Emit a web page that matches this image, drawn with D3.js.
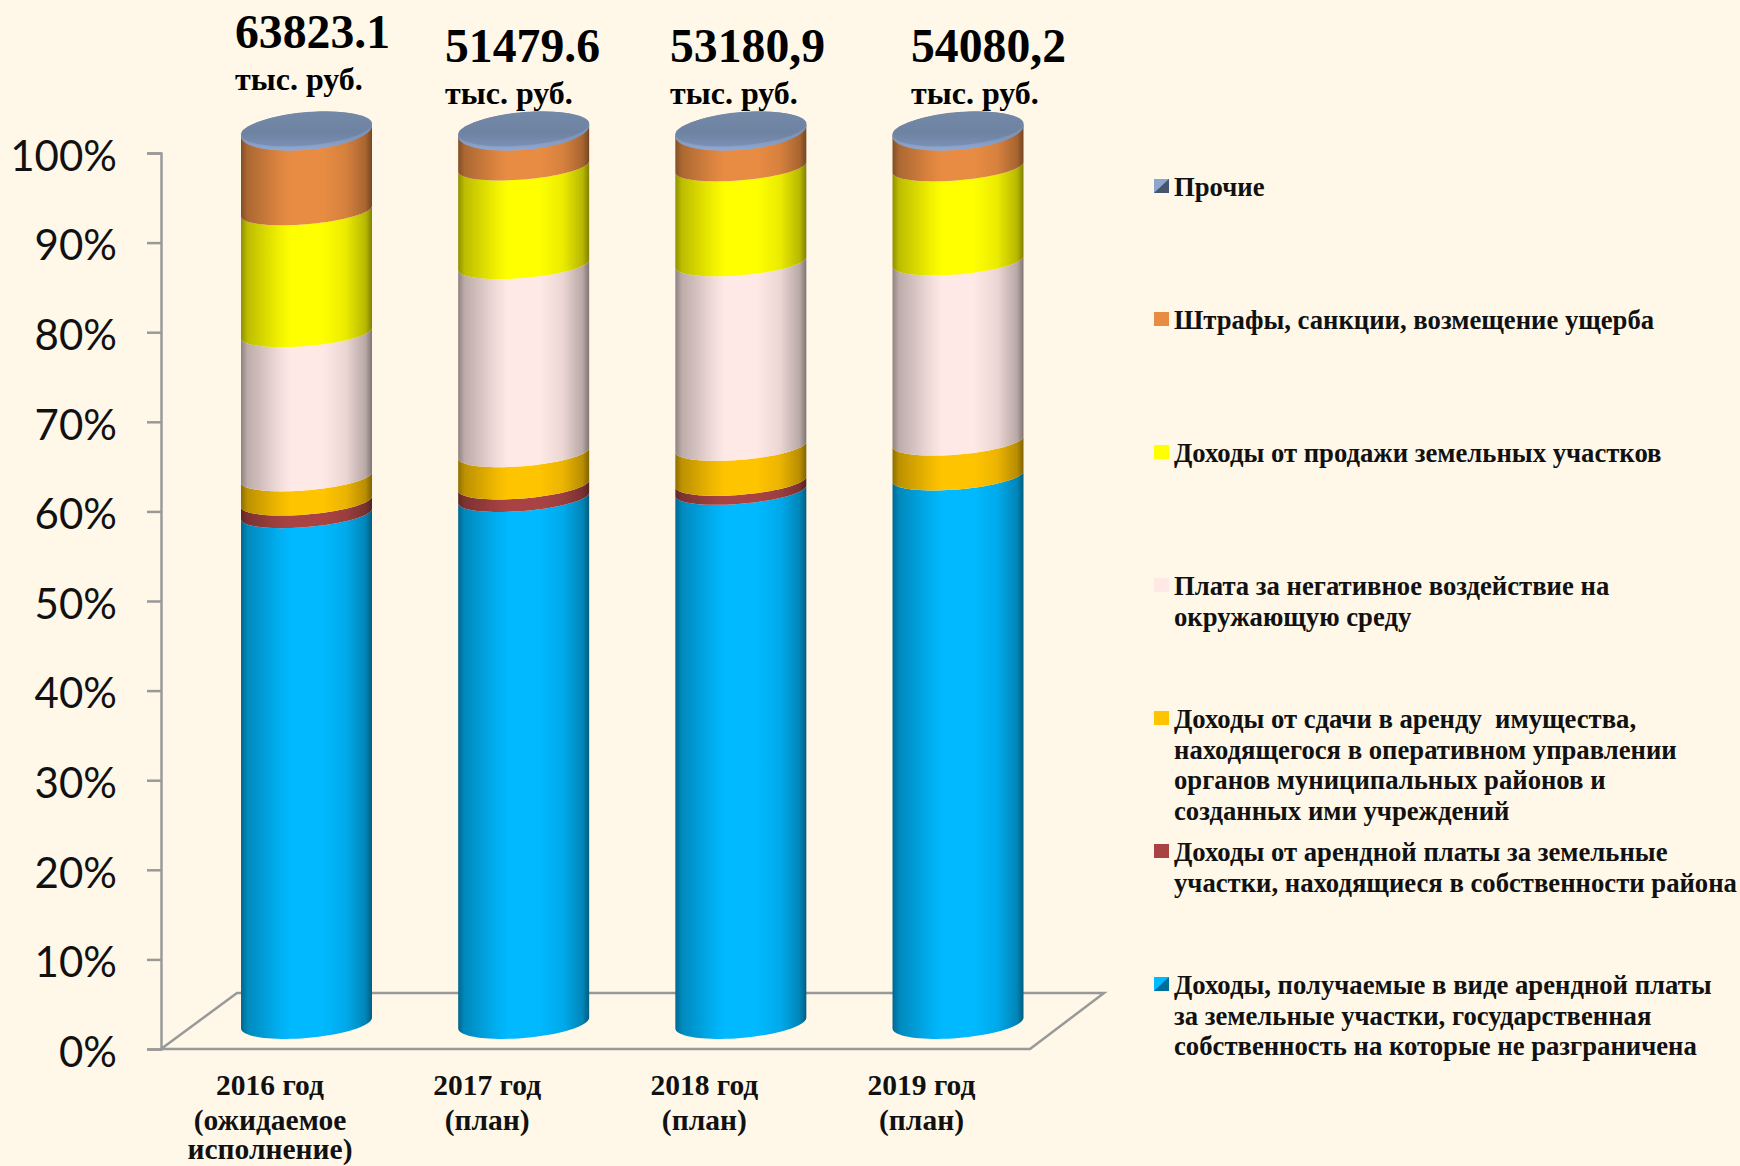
<!DOCTYPE html>
<html><head><meta charset="utf-8">
<script src="https://cdn.jsdelivr.net/npm/d3@7"></script>
<style>html,body{margin:0;padding:0;background:#FFF8E9;overflow:hidden}svg{display:block}</style>
</head><body><svg id="c" width="1740" height="1166"></svg>
<script>
const categories=[["2016 год","(ожидаемое","исполнение)"],["2017 год","(план)"],["2018 год","(план)"],["2019 год","(план)"]];
const totals=["63823.1","51479.6","53180,9","54080,2"];
const unitLabel="тыс. руб.";
const rentLand=[56.8,58.6,59.4,61.0];
const rentOwned=[1.4,1.4,1.0,0];
const rentProperty=[2.7,3.6,3.9,3.9];
const environment=[16.1,21.0,20.6,20.1];
const landSales=[13.6,11.0,10.6,10.5];
const fines=[9.2,4.2,4.3,4.3];
const other=[0.2,0.2,0.2,0.2];
const seriesNames=[
 ["Доходы, получаемые в виде арендной платы","за земельные участки, государственная","собственность на которые не разграничена"],
 ["Доходы от арендной платы за земельные","участки, находящиеся в собственности района"],
 ["Доходы от сдачи в аренду  имущества,","находящегося в оперативном управлении","органов муниципальных районов и","созданных ими учреждений"],
 ["Плата за негативное воздействие на","окружающую среду"],
 ["Доходы от продажи земельных участков"],
 ["Штрафы, санкции, возмещение ущерба"],
 ["Прочие"]];
const seriesColors=["#00B9FF","#A94343","#FFC400","#FFE9E6","#FFFF00","#E98C43","#7386A6"];
const legendBaselines=[994,861,728,595,462,329,196];
const values=[rentLand,rentOwned,rentProperty,environment,landSales,fines,other];

const svg=d3.select("#c");
const defs=svg.append("defs");
const serif="'Liberation Serif','Times New Roman',serif";
const y=d3.scaleLinear().domain([0,100]).range([1049,153]);
const x=d3.scalePoint().domain(d3.range(4)).range([306.5,958]);
const rx=65.5, shear=-0.082, lift=26;
const ink="#999999";

seriesColors.forEach((c,i)=>{
  const g=defs.append("linearGradient").attr("id","g"+i);
  const h=d3.rgb(c);
  const shade=k=>d3.rgb(h.r*k,h.g*k,h.b*k).formatHex();
  [[0,.56],[.05,.74],[.3,.95],[.38,1],[.62,1],[.8,.92],[.95,.72],[1,.5]].forEach(s=>
    g.append("stop").attr("offset",s[0]).attr("stop-color",shade(s[1])));
});
const capG=defs.append("linearGradient").attr("id","cap").attr("x1",0).attr("y1",0).attr("x2",0).attr("y2",1);
[["0","#7488A8"],["0.6","#6E82A1"],["1","#7A90B4"]].forEach(s=>capG.append("stop").attr("offset",s[0]).attr("stop-color",s[1]));
const rimG=defs.append("linearGradient").attr("id","rim").attr("x1",0).attr("y1",0).attr("x2",0).attr("y2",1);
[["0","#7488A8"],["0.7","#7F96BC"],["1","#90A9D4"]].forEach(s=>rimG.append("stop").attr("offset",s[0]).attr("stop-color",s[1]));

svg.append("path").attr("d",d3.line()([[161,1049],[237,993],[1104,993],[1030,1049],[161,1049]]))
  .attr("fill","none").attr("stroke",ink).attr("stroke-width",2.5);

const axis=d3.axisLeft(y).tickValues(d3.range(0,101,10)).tickFormat(d=>d+"%").tickSize(14).tickPadding(9);
const ag=svg.append("g").attr("transform","translate(161,0)").call(axis);
ag.selectAll("path,line").attr("stroke",ink).attr("stroke-width",2.5);
ag.selectAll("text").attr("font-family","Lato,sans-serif").attr("font-size",42).attr("fill","#111").attr("dy","0.41em").attr("x",-44);

const front=(cx,cy,ry,rev)=>{
  const pts=d3.range(0,41).map(i=>{const t=Math.PI-i/40*Math.PI;return [cx+rx*Math.cos(t),cy+ry*Math.sin(t)+shear*rx*Math.cos(t)];});
  return rev?pts.reverse():pts;
};
const ellipse=(cx,cy,ry)=>d3.range(0,81).map(i=>{const t=i/80*2*Math.PI;return [cx+rx*Math.cos(t),cy+ry*Math.sin(t)+shear*rx*Math.cos(t)];});
const ln=d3.line();
categories.forEach((cat,b)=>{
  const cx=x(b);
  let cum=0;
  const g=svg.append("g");
  values.forEach((vals,s)=>{
    const v=vals[b];
    const lo=cum, hi=cum+v; cum=hi;
    if(v<=0||s===values.length-1) return;
    const ryLo=lo===0?15:13, ryHi=13;
    const pts=front(cx,y(hi)-lift,ryHi,false).concat(front(cx,y(lo)-lift,ryLo,true));
    g.append("path").attr("d",ln(pts)+"Z").attr("fill",`url(#g${s})`);
  });
  const top=y(cum)-lift+2;
  g.append("path").attr("d",ln(ellipse(cx,top+2,19))+"Z").attr("fill","url(#rim)");
  g.append("path").attr("d",ln(ellipse(cx,top,16.5))+"Z").attr("fill","url(#cap)");
  const lh=[0,35,64];
  cat.forEach((t,i)=>svg.append("text").attr("x",cx-36.5).attr("y",1095+lh[i]).attr("text-anchor","middle")
    .attr("font-family",serif).attr("font-weight","bold").attr("font-size",29.5).attr("fill","#111").text(t));
  const tx=[235,445,670,911][b], ty=b===0?48:62;
  svg.append("text").attr("x",tx).attr("y",ty).attr("font-family",serif).attr("font-weight","bold").attr("font-size",47.7).attr("fill","#000").text(totals[b]);
  svg.append("text").attr("x",tx).attr("y",ty+42).attr("font-family",serif).attr("font-weight","bold").attr("font-size",32).attr("fill","#000").text(unitLabel);
});

seriesNames.forEach((lines,s)=>{
  const by=legendBaselines[s];
  const sw=svg.append("g");
  sw.append("rect").attr("x",1154).attr("y",by-17).attr("width",15).attr("height",14).attr("fill",seriesColors[s]);
  if(s===6){
    sw.append("path").attr("d",ln([[1154,by-17],[1169,by-17],[1154,by-3]])+"Z").attr("fill","#8DA6D0");
    sw.append("path").attr("d",ln([[1169,by-17],[1169,by-3],[1154,by-3]])+"Z").attr("fill","#46546E");
  }
  if(s===0){
    sw.append("path").attr("d",ln([[1169,by-17],[1169,by-3],[1154,by-3]])+"Z").attr("fill","#006E99");
  }
  lines.forEach((t,i)=>svg.append("text").attr("x",1174).attr("y",by+i*30.6).attr("font-family",serif)
    .attr("font-weight","bold").attr("font-size",26.7).attr("fill","#111").attr("xml:space","preserve").text(t));
});
</script></body></html>
